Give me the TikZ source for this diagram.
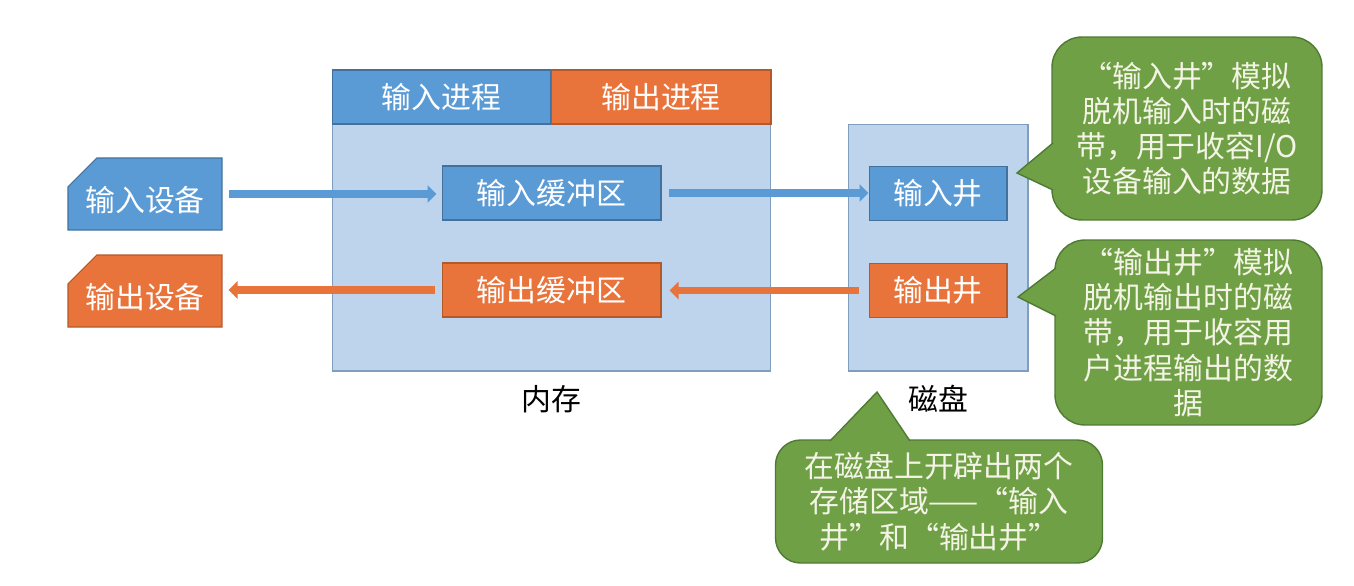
\documentclass[tikz,border=0pt]{standalone}
\usepackage{fontspec}
\setmainfont{Noto Sans CJK SC}
\usetikzlibrary{shapes.misc,arrows.meta}

\definecolor{inblue}{HTML}{5B9BD5}
\definecolor{inblueline}{HTML}{41719C}
\definecolor{outorange}{HTML}{E8743B}
\definecolor{outorangeline}{HTML}{B35A2A}
\definecolor{areafill}{HTML}{BDD4EC}
\definecolor{arealine}{HTML}{7F9DBD}
\definecolor{notegreen}{HTML}{70A046}
\definecolor{noteline}{HTML}{4F7A33}
\definecolor{notetext}{HTML}{F4F4E6}

\begin{document}
\begin{tikzpicture}
[
	x=0.02cm,
	y=-0.02cm,
	font=\fontsize{17}{20}\selectfont,
	box/.style={draw,line width=0.6pt,inner sep=0pt,text=white},
	inbox/.style={box,fill=inblue,draw=inblueline},
	outbox/.style={box,fill=outorange,draw=outorangeline},
	area/.style={draw=arealine,fill=areafill,line width=0.6pt,inner sep=0pt},
	device/.style={chamfered rectangle,chamfered rectangle corners=north west,
		chamfered rectangle xsep=0.58cm,chamfered rectangle ysep=0.3cm,
		minimum width=3.08cm,minimum height=1.44cm},
	note/.style={draw=noteline,fill=notegreen,line width=0.8pt,rounded corners=0.6cm,
		text=notetext,align=center,inner sep=0pt},
	flow/.style={line width=0.15cm,-{Triangle[length=0.18cm,width=0.34cm]}}
]

	\useasboundingbox[fill=white] (0,0) rectangle (1354,585);

	% devices
	\node[inbox,device] (indev) at (145,194) {\raisebox{-0.12cm}[\height][\depth]{输入设备}};
	\node[outbox,device] (outdev) at (145,291) {\raisebox{-0.12cm}[\height][\depth]{输出设备}};

	% memory
	\node[area,minimum width=8.78cm,minimum height=4.94cm] (mem) at (551.5,247.5) {};
	\node[inbox,minimum width=4.38cm,minimum height=1.08cm] (inproc) at (441.5,97) {输入进程};
	\node[outbox,minimum width=4.4cm,minimum height=1.08cm] (outproc) at (661,97) {输出进程};
	\node[inbox,minimum width=4.38cm,minimum height=1.08cm] (inbuf) at (551.5,193) {输入缓冲区};
	\node[outbox,minimum width=4.38cm,minimum height=1.08cm] (outbuf) at (551.5,290) {输出缓冲区};
	\node (memlbl) at (551.5,399) {内存};

	% disk
	\node[area,minimum width=3.6cm,minimum height=4.94cm] (disk) at (938,247.5) {};
	\node[inbox,minimum width=2.76cm,minimum height=1.08cm] (inwell) at (938,193.5) {输入井};
	\node[outbox,minimum width=2.76cm,minimum height=1.08cm] (outwell) at (938,290.5) {输出井};
	\node (disklbl) at (938,399) {磁盘};

	% data flow
	\draw[flow,draw=inblue,shorten <=0.12cm,shorten >=0.1cm] (indev.east) -- (indev.east -| inbuf.west);
	\draw[flow,draw=inblue,shorten <=0.14cm] (inbuf.east) -- (inbuf.east -| inwell.west);
	\draw[flow,draw=outorange,shorten <=0.2cm,shorten >=0.16cm] (outwell.west) -- (outwell.west -| outbuf.east);
	\draw[flow,draw=outorange,shorten <=0.14cm,shorten >=0.12cm] (outbuf.west) -- (outbuf.west -| outdev.east);

	% notes
	\node[note,minimum width=5.4cm,minimum height=3.66cm] (note1) at (1187,128.5)
		{“输入井”模拟\\脱机输入时的磁\\带，用于收容I/O\\设备输入的数据};
	\node[note,minimum width=5.34cm,minimum height=3.7cm] (note2) at (1188.5,332.5)
		{“输出井”模拟\\脱机输出时的磁\\带，用于收容用\\户进程输出的数\\据};
	\node[note,minimum width=6.54cm,minimum height=2.46cm,rounded corners=0.5cm] (note3) at (939,501.5)
		{在磁盘上开辟出两个\\存储区域——“输入\\井”和“输出井”};

	% note pointers
	\coordinate (tip1) at (1017,173);
	\coordinate (tip2) at (1018,297);
	\coordinate (tip3) at (877,392);
	\fill[notegreen] (1053,143) -- (tip1) -- (1053,190) -- (1058,190) -- (1058,143) -- cycle;
	\draw[noteline,line width=0.8pt] (1053,143) -- (tip1) -- (1053,190);
	\fill[notegreen] (1056,268) -- (tip2) -- (1056,316) -- (1061,316) -- (1061,268) -- cycle;
	\draw[noteline,line width=0.8pt] (1056,268) -- (tip2) -- (1056,316);
	\fill[notegreen] (830,441) -- (tip3) -- (910,441) -- (910,445) -- (830,445) -- cycle;
	\draw[noteline,line width=0.8pt] (830,441) -- (tip3) -- (910,441);

\end{tikzpicture}
\end{document}
